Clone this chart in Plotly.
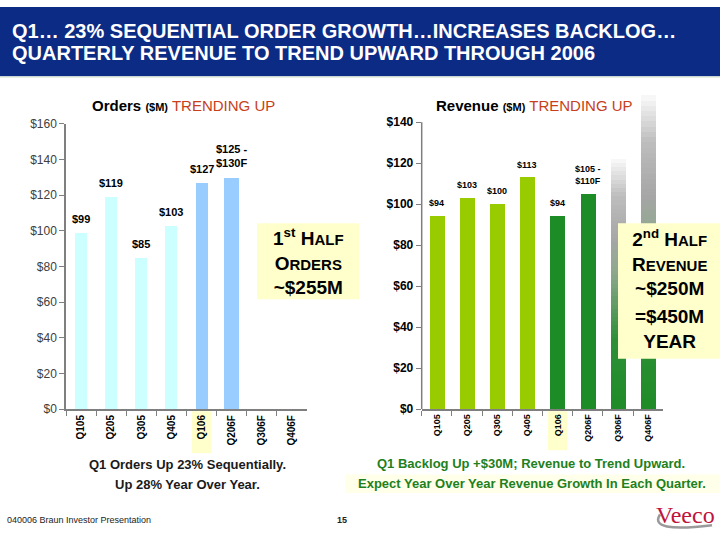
import plotly.graph_objects as go

# ---------------- data ----------------
quarters = ["Q105", "Q205", "Q305", "Q405", "Q106", "Q206F", "Q306F", "Q406F"]
orders = [99, 119, 85, 103, 127, 130, None, None]
order_labels = ["$99", "$119", "$85", "$103", "$127", "$125 -<br>$130F", "", ""]
revenue = [94, 103, 100, 113, 94, 105, None, None]
revenue_labels = ["$94", "$103", "$100", "$113", "$94", "$105 -<br>$110F", "", ""]
revenue_outlook = [None, None, None, None, None, None, 122, 153]  # faded forecast bars
orders_ticks = [0, 20, 40, 60, 80, 100, 120, 140, 160]
revenue_ticks = [0, 20, 40, 60, 80, 100, 120, 140]

# ---------------- styles ----------------
order_colors = ["#CCFFFF"] * 4 + ["#99CCFF"] * 2 + ["#CCFFFF"] * 2
order_widths = [0.4, 0.4, 0.4, 0.4, 0.4, 0.5, 0.4, 0.4]
revenue_colors = ["#99CC00"] * 4 + ["#1E8C26"] * 4
W, H = 720, 540
FONT = "Liberation Sans, Arial, sans-serif"


def px(x):
    return x / W


def py(y):
    return 1 - y / H


def hex2rgb(h):
    h = h.lstrip("#")
    return [int(h[i:i + 2], 16) for i in (0, 2, 4)]


grad_stops = [(0.0, "#1E8C26"), (0.28, "#2F8F38"), (0.55, "#8FA88F"),
              (0.68, "#A6A6A6"), (0.85, "#BDBDBD"), (1.0, "#FAFAFA")]


def grad(f):
    for (f0, c0), (f1, c1) in zip(grad_stops[:-1], grad_stops[1:]):
        if f0 <= f <= f1:
            t = (f - f0) / (f1 - f0)
            a, b = hex2rgb(c0), hex2rgb(c1)
            return "rgb(%d,%d,%d)" % tuple(round(a[i] + (b[i] - a[i]) * t) for i in range(3))
    return grad_stops[-1][1]


fig = go.Figure()

fig.add_trace(go.Bar(x=quarters, y=orders, marker_color=order_colors, width=order_widths,
                     marker_line_width=0, xaxis="x", yaxis="y", hoverinfo="skip"))
fig.add_trace(go.Bar(x=quarters, y=revenue, marker_color=revenue_colors, width=0.5,
                     marker_line_width=0, xaxis="x2", yaxis="y2", hoverinfo="skip"))
# faded forecast bars: overlaid bars from tallest to shortest, each colouring its top slice
NSEG = 60
for k in range(NSEG):
    frac = (NSEG - k) / NSEG
    seg = [v * frac if v is not None else None for v in revenue_outlook]
    fig.add_trace(go.Bar(x=quarters, y=seg, marker_color=grad(frac - 0.5 / NSEG), width=0.5,
                         marker_line_width=0, xaxis="x2", yaxis="y2", hoverinfo="skip"))

axis_common = dict(showgrid=False, zeroline=False, fixedrange=True)

fig.update_layout(
    width=W, height=H, margin=dict(l=0, r=0, t=0, b=0),
    paper_bgcolor="white", plot_bgcolor="rgba(0,0,0,0)",
    showlegend=False, barmode="overlay", bargap=0,
    font=dict(family=FONT, color="black"),
    xaxis=dict(domain=[px(66), px(307)], type="category", categoryorder="array",
               categoryarray=quarters, range=[-0.5, 7.5], anchor="y",
               showline=True, linecolor="#7F7F7F", linewidth=1.5,
               ticks="outside", tickson="boundaries", ticklen=5, tickcolor="#7F7F7F",
               tickangle=-90, tickfont=dict(size=10, weight="bold", color="black"),
               **axis_common),
    yaxis=dict(domain=[py(413), py(120)], range=[0, 160], anchor="x",
               tickvals=orders_ticks, ticktext=["$%d" % v for v in orders_ticks],
               showline=True, linecolor="#7F7F7F", linewidth=1.5,
               ticks="outside", ticklen=5, tickcolor="#7F7F7F",
               tickfont=dict(size=12, color="#404040"), **axis_common),
    xaxis2=dict(domain=[px(421.7), px(663.3)], type="category", categoryorder="array",
                categoryarray=quarters, range=[-0.5, 7.5], anchor="y2",
                showline=True, linecolor="#7F7F7F", linewidth=1.5,
                ticks="outside", tickson="boundaries", ticklen=5, tickcolor="#7F7F7F",
                tickangle=-90, tickfont=dict(size=9, weight="bold", color="black"),
                **axis_common),
    yaxis2=dict(domain=[py(412.7), py(76.3)], range=[0, 160], anchor="x2",
                tickvals=revenue_ticks, ticktext=["$%d" % v for v in revenue_ticks],
                showline=False, ticks="outside", ticklen=5, tickcolor="#7F7F7F",
                tickfont=dict(size=12, weight="bold", color="black"), **axis_common),
)

shapes = [
    # header band
    dict(type="rect", xref="paper", yref="paper", x0=0, x1=1, y0=py(71), y1=1,
         fillcolor="#0B2B85", line_width=0, layer="below"),
    dict(type="line", xref="paper", yref="paper", x0=0, x1=1, y0=py(72), y1=py(72),
         line=dict(color="#D8E4C8", width=1), layer="below"),
    # right y axis line (0..140)
    dict(type="line", xref="x2 domain", yref="y2", x0=0, x1=0, y0=0, y1=revenue_ticks[-1],
         line=dict(color="#7F7F7F", width=1.5)),
    # highlight behind Q106 tick labels
    dict(type="rect", xref="paper", yref="paper", x0=px(192), x1=px(211), y0=py(458), y1=py(415),
         fillcolor="#FFFFCC", line_width=0, layer="below"),
    dict(type="rect", xref="paper", yref="paper", x0=px(548), x1=px(567), y0=py(455), y1=py(415),
         fillcolor="#FFFFCC", line_width=0, layer="below"),
    # caption band
    dict(type="rect", xref="paper", yref="paper", x0=px(345), x1=px(720), y0=py(499), y1=py(480),
         fillcolor="#FFFFEA", line_width=0, layer="below"),
    # callout boxes
    dict(type="rect", xref="paper", yref="paper", x0=px(257), x1=px(359), y0=py(300), y1=py(222),
         fillcolor="#FFFFCC", line_width=0),
    dict(type="rect", xref="paper", yref="paper", x0=px(618), x1=px(720), y0=py(361), y1=py(222),
         fillcolor="#FFFFCC", line_width=0),
    # logo swoosh
    dict(type="path", xref="paper", yref="paper",
         path="M %f %f Q %f %f %f %f" % (px(660), py(521), px(648), py(540), px(712), py(532)),
         line=dict(color="#9A9A9A", width=2.5)),
]
fig.update_layout(shapes=shapes)

ann = []
# bar value labels
for q, v, t in zip(quarters, orders, order_labels):
    if v is not None and t:
        ann.append(dict(x=q, y=v, xref="x", yref="y", text="<b>%s</b>" % t, showarrow=False,
                        yanchor="bottom", yshift=6, font=dict(size=11, color="black")))
for q, v, t in zip(quarters, revenue, revenue_labels):
    if v is not None and t:
        ann.append(dict(x=q, y=v, xref="x2", yref="y2", text="<b>%s</b>" % t, showarrow=False,
                        yanchor="bottom", yshift=6, font=dict(size=9, color="black")))


def txt(x, y, text, size, color="black", xanchor="center", family=FONT):
    ann.append(dict(x=px(x), y=py(y), xref="paper", yref="paper", text=text, showarrow=False,
                    xanchor=xanchor, yanchor="middle", font=dict(size=size, color=color, family=family)))


# header
txt(10, 25, "<b>Q1… 23% SEQUENTIAL ORDER GROWTH…INCREASES BACKLOG…</b>", 20, "white", "left")
txt(10, 47, "<b>QUARTERLY REVENUE TO TREND UPWARD THROUGH 2006</b>", 20, "white", "left")
# chart titles
txt(183, 101, "<b>Orders</b> <b><span style='font-size:11px'>($M)</span></b> "
              "<span style='color:#C8401A'>TRENDING UP</span>", 15)
txt(534, 101, "<b>Revenue</b> <b><span style='font-size:11px'>($M)</span></b> "
              "<span style='color:#C8401A'>TRENDING UP</span>", 15)
# callouts
sm = "<span style='font-size:15px'>%s</span>"
txt(308, 261, "<b>1<sup>st</sup> H" + sm % "ALF" + "<br>O" + sm % "RDERS" + "<br>~$255M</b>", 19)
txt(669, 262, "<b>2<sup>nd</sup> H" + sm % "ALF" + "<br>R" + sm % "EVENUE" + "<br>~$250M</b>", 19)
txt(669, 331, "<b>=$450M<br>YEAR</b>", 19)
# captions
txt(187, 470, "<b>Q1 Orders Up 23% Sequentially.</b>", 13, "#1A1A1A")
txt(187, 490, "<b>Up 28% Year Over Year.</b>", 13, "#1A1A1A")
txt(531, 469, "<b>Q1 Backlog Up +$30M; Revenue to Trend Upward.</b>", 13, "#1E8020")
txt(532, 489, "<b>Expect Year Over Year Revenue Growth In Each Quarter.</b>", 13, "#1E8020")
# footer
txt(5, 527, "040006 Braun Investor Presentation", 9, "#222222", "left")
txt(342, 527, "<b>15</b>", 9, "#222222")
txt(685, 522, "Veeco", 24, "#C0143C", family="Liberation Serif, Times New Roman, serif")

fig.update_layout(annotations=ann)
fig.write_html("out.html")
